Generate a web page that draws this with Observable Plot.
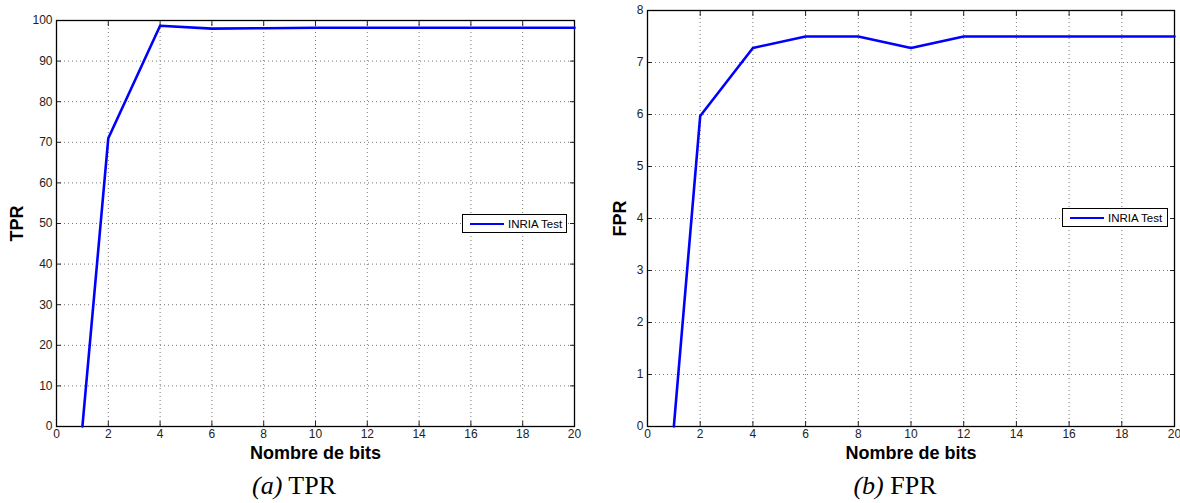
<!DOCTYPE html>
<html><head><meta charset="utf-8">
<script src="https://cdn.jsdelivr.net/npm/d3@7"></script>
<script src="https://cdn.jsdelivr.net/npm/@observablehq/plot@0.6"></script>
<style>
body{margin:0;background:#fff;}
#wrap{position:relative;width:1180px;height:503px;overflow:hidden;font-family:Arial,"Liberation Sans",Helvetica,sans-serif;}
.panel{position:absolute;top:0;}
.panel svg{overflow:visible;}
.panel [aria-label="x-axis label"] text, .panel [aria-label="y-axis label"] text{font-weight:bold;font-size:18px;fill:#000;}
.legend{position:absolute;border:1px solid #000;background:#fff;font-size:11.5px;display:flex;align-items:center;box-sizing:border-box;height:19px;color:#000;}
.legend .sw{display:inline-block;width:34px;height:0;border-top:2.5px solid #0000ff;margin:0 4px 0 7px;}
.cap{position:absolute;top:471px;line-height:29px;font-family:"Liberation Serif","DejaVu Serif",serif;font-size:26px;color:#000;transform:translateX(-50%);white-space:nowrap;}
</style></head>
<body><div id="wrap"></div>
<script>
const bits = [1, 2, 4, 6, 8, 10, 12, 14, 16, 18, 20];
const tpr  = [0, 71, 98.7, 98, 98.1, 98.2, 98.2, 98.2, 98.2, 98.2, 98.2];
const fpr  = [0, 5.97, 7.28, 7.5, 7.5, 7.28, 7.5, 7.5, 7.5, 7.5, 7.5];
const xTicks = [0, 2, 4, 6, 8, 10, 12, 14, 16, 18, 20];
const tprTicks = [0, 10, 20, 30, 40, 50, 60, 70, 80, 90, 100];
const fprTicks = [0, 1, 2, 3, 4, 5, 6, 7, 8];
const seriesName = "INRIA Test";
const xLabel = "Nombre de bits";

function panel(vals, yDomain, yTicks, yLabel, m) {
  const data = bits.map((b, i) => ({b, v: vals[i]}));
  const grid = {stroke: "#777", strokeOpacity: 1, strokeDasharray: "1,3"};
  const fmt = d3.format("d");
  return Plot.plot({
    width: 590, height: 460,
    marginLeft: m.left, marginRight: m.right, marginTop: m.top, marginBottom: 34,
    style: {fontFamily: "Arial, 'Liberation Sans', Helvetica, sans-serif", fontSize: "12px", color: "#222"},
    x: {domain: [0, 20]},
    y: {domain: yDomain},
    marks: [
      Plot.gridX(xTicks.slice(1, -1), grid),
      Plot.gridY(yTicks.slice(1, -1), grid),
      Plot.axisX(xTicks, {anchor: "bottom", tickSize: -5, tickPadding: 8, tickFormat: fmt, label: xLabel, labelAnchor: "center", labelArrow: "none", labelOffset: 32, stroke: "#222"}),
      Plot.axisX(xTicks, {anchor: "top", tickSize: -5, tickFormat: () => "", label: null, stroke: "#222"}),
      Plot.axisY(yTicks, {anchor: "left", tickSize: -5, tickPadding: 9, tickFormat: fmt, label: yLabel, labelAnchor: "center", labelArrow: "none", labelOffset: m.labelOffset, stroke: "#222"}),
      Plot.axisY(yTicks, {anchor: "right", tickSize: -5, tickFormat: () => "", label: null, stroke: "#222"}),
      Plot.frame({stroke: "#000", strokeWidth: 1.3}),
      Plot.line(data, {x: "b", y: "v", stroke: "#0000ff", strokeWidth: 2.6})
    ]
  });
}

const wrap = document.getElementById("wrap");
function addPanel(left, svg) {
  const d = document.createElement("div");
  d.className = "panel"; d.style.left = left + "px";
  d.appendChild(svg); wrap.appendChild(d);
}
addPanel(0, panel(tpr, [0, 100], tprTicks, "TPR", {left: 56, right: 16, top: 20, labelOffset: 46}));
addPanel(590, panel(fpr, [0, 8], fprTicks, "FPR", {left: 57, right: 6, top: 10, labelOffset: 34}));

function addLegend(left, top, width) {
  const l = document.createElement("div");
  l.className = "legend";
  l.style.left = left + "px"; l.style.top = top + "px"; l.style.width = width + "px";
  l.innerHTML = '<span class="sw"></span><span>' + seriesName + '</span>';
  wrap.appendChild(l);
}
addLegend(462, 214, 105);
addLegend(1062, 208, 106);

function addCap(cx, letter, name) {
  const c = document.createElement("div");
  c.className = "cap"; c.style.left = cx + "px";
  c.innerHTML = '<i>(' + letter + ')</i> ' + name;
  wrap.appendChild(c);
}
addCap(294, "a", "TPR");
addCap(895, "b", "FPR");
</script></body></html>
